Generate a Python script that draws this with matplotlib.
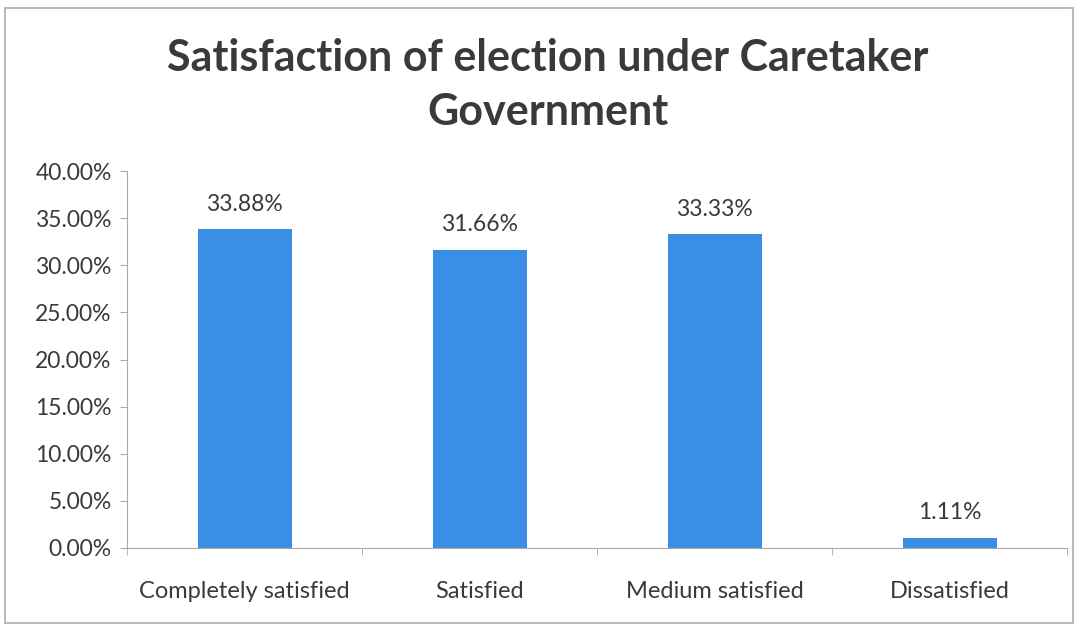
import matplotlib
matplotlib.use("Agg")
import matplotlib.pyplot as plt
from matplotlib.patches import Rectangle
from matplotlib.ticker import FuncFormatter, FixedLocator

categories = ["Completely satisfied", "Satisfied", "Medium satisfied", "Dissatisfied"]
values = [33.88, 31.66, 33.33, 1.11]
yticks = [0, 5, 10, 15, 20, 25, 30, 35, 40]

plt.rcParams['font.family'] = ['Lato', 'DejaVu Sans']
text_color = '#3a3a3a'
bar_color = '#3a8ee6'

fig = plt.figure(figsize=(10.78, 6.28), dpi=100)
ax = fig.add_axes([127/1078, 1-548/628, 940/1078, (548-171)/628])

x = list(range(len(categories)))
bars = ax.bar(x, values, width=0.4, color=bar_color, zorder=2)
for xi, v in zip(x, values):
    ax.text(xi, v + 1.5, f"{v:.2f}%", ha='center', va='bottom', fontsize=16.5, color=text_color)

ax.set_xlim(-0.5, len(categories) - 0.5)
ax.set_ylim(0, 40)
ax.yaxis.set_major_locator(FixedLocator(yticks))
ax.yaxis.set_major_formatter(FuncFormatter(lambda v, p: f"{v:.2f}%"))
ax.set_xticks(x)
ax.set_xticklabels(categories, fontsize=17, color=text_color)
ax.set_xticks([i - 0.5 for i in range(len(categories) + 1)], minor=True)
ax.tick_params(axis='x', which='major', length=0, pad=24)
ax.tick_params(axis='x', which='minor', length=5, color='#aaaaaa', direction='out')
ax.tick_params(axis='y', length=5, color='#aaaaaa', labelsize=16.5, labelcolor=text_color, pad=6)
for s in ['top', 'right']:
    ax.spines[s].set_visible(False)
ax.spines['left'].set_color('#aaaaaa')
ax.spines['bottom'].set_color('#aaaaaa')

fig.text(548/1078, 1-58/628, "Satisfaction of election under Caretaker", ha='center', va='center',
         fontsize=31, fontweight='bold', color=text_color)
fig.text(548/1078, 1-112/628, "Government", ha='center', va='center',
         fontsize=31, fontweight='bold', color=text_color)

fig.patches.append(Rectangle((5/1078, 5/628), 1068/1078, 615/628, transform=fig.transFigure,
                             fill=False, edgecolor='#bbbbbb', linewidth=1.5))

fig.savefig("out.png", dpi=100)
